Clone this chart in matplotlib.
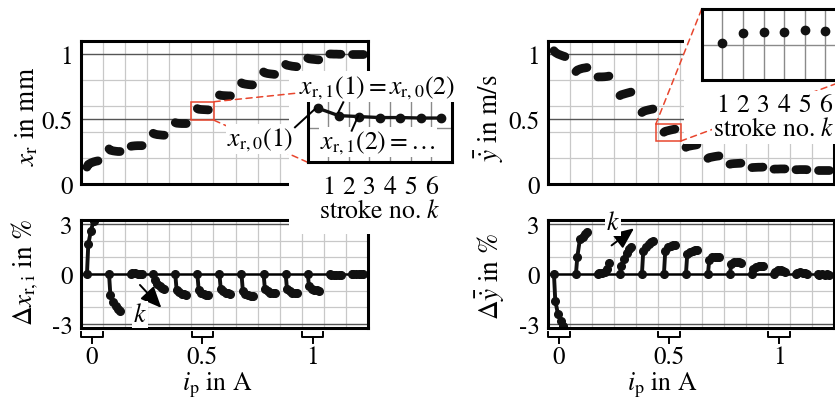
import matplotlib
matplotlib.use('Agg')
import matplotlib.pyplot as plt
import numpy as np
from matplotlib.patches import Rectangle, ConnectionPatch
from matplotlib.lines import Line2D

plt.rcParams['font.family'] = ['STIXGeneral', 'DejaVu Serif']
plt.rcParams['mathtext.fontset'] = 'stix'
plt.rcParams['axes.unicode_minus'] = False
plt.rcParams['font.size'] = 18

W, H = 835, 402
RED = '#e8462e'
FS_TICK = 18
FS_LAB = 19.5
FS_TXT = 18.5

# ---- data ----
ip = [0.0, 0.1, 0.2, 0.3, 0.4, 0.5, 0.6, 0.7, 0.8, 0.9, 1.0, 1.1, 1.2]
k_off = [-0.023, -0.017, -0.005, 0.007, 0.018, 0.027]   # stroke k=1..6 inside one group

xr = [[0.13, 0.15, 0.162, 0.17, 0.175, 0.178],
      [0.27, 0.26, 0.255, 0.252, 0.25, 0.25],
      [0.29, 0.292, 0.294, 0.295, 0.295, 0.295],
      [0.39, 0.385, 0.38, 0.378, 0.376, 0.375],
      [0.472, 0.468, 0.466, 0.465, 0.465, 0.465],
      [0.58, 0.575, 0.573, 0.572, 0.571, 0.57],
      [0.685, 0.682, 0.68, 0.679, 0.678, 0.678],
      [0.778, 0.772, 0.768, 0.765, 0.763, 0.762],
      [0.862, 0.855, 0.85, 0.847, 0.845, 0.843],
      [0.92, 0.914, 0.91, 0.906, 0.904, 0.902],
      [0.968, 0.963, 0.96, 0.958, 0.956, 0.955],
      [1.0, 1.0, 0.999, 0.999, 0.998, 0.998],
      [1.0, 1.0, 1.0, 1.0, 1.0, 1.0]]

dxr = [[0, 1.8, 2.6, 3.2, 3.6, 3.9],
       [0, -1.25, -1.7, -1.95, -2.1, -2.2],
       [0, 0.05, 0.05, 0.03, 0.03, 0.02],
       [0, -0.35, -0.6, -0.75, -0.85, -0.9],
       [0, -0.95, -1.1, -1.18, -1.22, -1.25],
       [0, -0.95, -1.12, -1.2, -1.24, -1.26],
       [0, -0.9, -1.05, -1.12, -1.16, -1.18],
       [0, -1.0, -1.18, -1.26, -1.3, -1.32],
       [0, -0.9, -1.05, -1.12, -1.15, -1.16],
       [0, -0.9, -1.05, -1.12, -1.15, -1.16],
       [0, -0.75, -0.88, -0.95, -0.98, -1.0],
       [0, -0.05, -0.08, -0.08, -0.07, -0.06],
       [0, 0.0, 0.01, 0.0, 0.01, 0.0]]

yd = [[1.025, 1.012, 1.0, 0.992, 0.985, 0.98],
      [0.865, 0.876, 0.884, 0.89, 0.893, 0.896],
      [0.823, 0.824, 0.824, 0.825, 0.827, 0.83],
      [0.68, 0.686, 0.692, 0.698, 0.703, 0.707],
      [0.55, 0.558, 0.565, 0.57, 0.574, 0.577],
      [0.398, 0.405, 0.41, 0.415, 0.419, 0.422],
      [0.282, 0.288, 0.292, 0.296, 0.299, 0.302],
      [0.197, 0.203, 0.207, 0.211, 0.214, 0.216],
      [0.152, 0.155, 0.157, 0.158, 0.159, 0.16],
      [0.126, 0.127, 0.128, 0.129, 0.129, 0.13],
      [0.114, 0.115, 0.115, 0.116, 0.116, 0.116],
      [0.11, 0.11, 0.111, 0.111, 0.111, 0.11],
      [0.11, 0.11, 0.11, 0.11, 0.11, 0.11]]

dyd = [[0, -1.6, -2.4, -2.8, -3.1, -3.4],
       [0, 1.0, 2.1, 2.25, 2.4, 2.5],
       [0, 0.05, 0.05, 0.1, 0.3, 0.65],
       [0, 0.5, 0.9, 1.25, 1.5, 1.65],
       [0, 1.4, 1.65, 1.8, 1.9, 2.0],
       [0, 1.4, 1.6, 1.7, 1.75, 1.75],
       [0, 1.2, 1.35, 1.4, 1.45, 1.45],
       [0, 0.85, 1.0, 1.05, 1.05, 1.05],
       [0, 0.6, 0.75, 0.75, 0.7, 0.65],
       [0, 0.3, 0.45, 0.5, 0.5, 0.5],
       [0, 0.15, 0.25, 0.25, 0.2, 0.15],
       [0, 0.05, 0.1, 0.05, 0.05, 0.0],
       [0, -0.05, 0, -0.05, 0, -0.05]]

# insets (group i_p = 0.5)
k_edge = [0.5, 1.5, 2.5, 3.5, 4.5, 5.5, 6.5]
xr_zoom = [0.600, 0.585, 0.583, 0.581, 0.581, 0.580, 0.580]
k_no = [1, 2, 3, 4, 5, 6]
yd_zoom = [0.398, 0.416, 0.417, 0.418, 0.421, 0.420]

fig = plt.figure(figsize=(8.35, 4.02), dpi=100)


def box(x0, y0, x1, y1):
    return [x0 / W, 1 - y1 / H, (x1 - x0) / W, (y1 - y0) / H]


def fp(x, y):
    return (x / W, 1 - y / H)


def white(x0, y0, x1, y1, z):
    fig.add_artist(Rectangle(fp(x0, y1), (x1 - x0) / W, (y1 - y0) / H, transform=fig.transFigure,
                             fc='w', ec='none', zorder=z))


def frame(ax, ylim, yt, light, dark, zero=False):
    ax.set_xlim(-0.05, 1.25)
    ax.set_ylim(ylim)
    ax.set_yticks(yt)
    ax.set_yticklabels([f'{v:g}' for v in yt])
    ax.set_xticks([0, 0.5, 1])
    ax.set_xticklabels(['0', '0.5', '1'])
    ax.tick_params(length=0, pad=6, labelsize=FS_TICK)
    for s in ax.spines.values():
        s.set_linewidth(2.2)
    for xv in np.arange(0.05, 1.2, 0.1):
        ax.axvline(xv, color='#c8c8c8', lw=0.9, zorder=0.5)
    for yv in light:
        ax.axhline(yv, color='#c8c8c8', lw=0.9, zorder=0.5)
    for yv in dark:
        ax.axhline(yv, color='#555555', lw=1.0, zorder=0.6)
    if zero:
        ax.axhline(0, color='k', lw=1.8, zorder=0.7)


def brace(ax, xc):
    tr = ax.get_xaxis_transform()
    ax.plot([xc - 0.048, xc - 0.048, xc + 0.048, xc + 0.048], [-0.034, -0.08, -0.08, -0.034],
            transform=tr, color='k', lw=1.4, clip_on=False, solid_joinstyle='round')
    ax.plot([xc, xc], [-0.08, -0.135], transform=tr, color='k', lw=1.4, clip_on=False)


ax_tl = fig.add_axes(box(81, 42, 368, 185))
ax_bl = fig.add_axes(box(81, 221, 368, 329))
ax_tr = fig.add_axes(box(548, 42, 834, 185))
ax_br = fig.add_axes(box(548, 221, 834, 329))

for ax in (ax_tl, ax_tr):
    frame(ax, (0, 1.1), [0, 0.5, 1], [0.2, 0.4, 0.6, 0.8], [0.5, 1.0])
    ax.set_xticklabels([])
for ax in (ax_bl, ax_br):
    frame(ax, (-3.25, 3.25), [-3, 0, 3], [-2, -1, 1, 2], [-3, 3], zero=True)
    ax.tick_params(axis='x', pad=12)
    for xc in [0, 0.5, 1]:
        brace(ax, xc)

for g, x0 in enumerate(ip):
    xs = [x0 + o for o in k_off]
    ax_tl.plot(xs, xr[g], color='#111111', lw=6.3, solid_capstyle='round', zorder=2)
    ax_tr.plot(xs, yd[g], color='#111111', lw=6.3, solid_capstyle='round', zorder=2)
    ax_bl.plot(xs, dxr[g], '-o', color='#111111', lw=2.8, ms=5.5, zorder=2)
    ax_br.plot(xs, dyd[g], '-o', color='#111111', lw=2.8, ms=5.5, zorder=2)

# zoom boxes
ax_tl.add_patch(Rectangle((0.447, 0.49), 0.106, 0.143, fill=False, ec=RED, lw=1.1, zorder=3))
ax_tr.add_patch(Rectangle((0.44, 0.33), 0.113, 0.13, fill=False, ec=RED, lw=1.1, zorder=3))

# white areas behind the insets
white(289, 72, 462, 235, 1)
white(684, 0, 835, 145, 1)
white(712, 92, 835, 145, 1.8)

# insets
ax_il = fig.add_axes(box(307.7, 93, 451.7, 163.3), zorder=2)
ax_ir = fig.add_axes(box(701.7, 10, 846, 81), zorder=2)
for ax in (ax_il, ax_ir):
    ax.set_xlim(0, 7)
    ax.set_xticks(k_no)
    ax.set_yticks([])
    ax.tick_params(length=0, pad=9, labelsize=FS_TXT)
    for s in ax.spines.values():
        s.set_linewidth(2.2)
    for kv in k_no:
        ax.axvline(kv, color='#8a8a8a', lw=1.0, zorder=0.5)
    ax.set_xlabel('stroke no. $k$', fontsize=FS_TXT, labelpad=0,
                  bbox=dict(fc='w', ec='none', pad=1))
ax_il.set_ylim(0.49, 0.633)
ax_il.axhline(0.56, color='#8a8a8a', lw=1.0, zorder=0.5)
ax_il.plot(k_edge, xr_zoom, '-o', color='#111111', lw=2.4, ms=6, zorder=2)
ax_ir.set_ylim(0.33, 0.46)
ax_ir.axhline(0.395, color='#8a8a8a', lw=1.0, zorder=0.5)
ax_ir.plot(k_no, yd_zoom, 'o', color='#111111', ms=6, zorder=2)

# connector lines
for xyA, axA, xyB, axB in [((0.553, 0.633), ax_tl, (0, 1), ax_il),
                           ((0.553, 0.49), ax_tl, (0, 0), ax_il),
                           ((0.44, 0.46), ax_tr, (0, 1), ax_ir),
                           ((0.553, 0.33), ax_tr, (1, 0), ax_ir)]:
    cp = ConnectionPatch(xyA=xyA, coordsA=axA.transData, xyB=xyB, coordsB=axB.transAxes,
                         color=RED, ls=(0, (4, 3)), lw=1.1, zorder=1.5)
    fig.add_artist(cp)

# annotations of left inset
wb = dict(fc='w', ec='none', pad=1)
fig.text(*fp(377, 88), r'$x_{\mathrm{r},1}(1) = x_{\mathrm{r},0}(2)$', ha='center', va='center',
         fontsize=FS_TXT, bbox=wb, zorder=3)
fig.text(*fp(260, 140), r'$x_{\mathrm{r},0}(1)$', ha='center', va='center', fontsize=FS_TXT,
         bbox=wb, zorder=3)
fig.text(*fp(378, 143), r'$x_{\mathrm{r},1}(2) = \ldots$', ha='center', va='center', fontsize=FS_TXT,
         bbox=wb, zorder=3)
for (x0, y0), (x1, y1) in [((295, 128.3), (315, 110)), ((343.3, 103.3), (338.3, 113.3)),
                           ((351.7, 131.7), (358.3, 116.7))]:
    a, b = fp(x0, y0)
    c, d = fp(x1, y1)
    fig.add_artist(Line2D([a, c], [b, d], transform=fig.transFigure, color='k', lw=1.4, zorder=5))

# k arrows
ax_bl.annotate('', xy=(0.314, -2.04), xytext=(0.217, -0.66),
               arrowprops=dict(arrowstyle='-|>,head_length=0.8,head_width=0.35', color='k', lw=1.4,
                               shrinkA=0, shrinkB=0, mutation_scale=16))
ax_bl.text(0.216, -2.44, '$k$', ha='center', va='center', fontsize=FS_TXT, bbox=wb, zorder=4)
ax_br.annotate('', xy=(0.341, 2.75), xytext=(0.239, 1.72),
               arrowprops=dict(arrowstyle='-|>,head_length=0.8,head_width=0.35', color='k', lw=1.4,
                               shrinkA=0, shrinkB=0, mutation_scale=16))
ax_br.text(0.246, 3.1, '$k$', ha='center', va='center', fontsize=FS_TXT, bbox=wb, zorder=4,
           clip_on=False)

# axis labels
fig.text(*fp(27, 116), r'$x_\mathrm{r}$ in mm', rotation=90, ha='center', va='center', fontsize=FS_LAB)
fig.text(*fp(25, 272), r'$\Delta x_{\mathrm{r,i}}$ in %', rotation=90, ha='center', va='center',
         fontsize=FS_LAB)
fig.text(*fp(489, 118), r'$\bar{\dot{y}}$ in m/s', rotation=90, ha='center', va='center', fontsize=FS_LAB)
fig.text(*fp(490, 277), r'$\Delta\bar{\dot{y}}$ in %', rotation=90, ha='center', va='center',
         fontsize=FS_LAB)
fig.text(*fp(217, 390), r'$i_\mathrm{p}$ in A', ha='center', va='baseline', fontsize=18.5)
fig.text(*fp(662, 390), r'$i_\mathrm{p}$ in A', ha='center', va='baseline', fontsize=18.5)

fig.savefig('out.png', dpi=100)
